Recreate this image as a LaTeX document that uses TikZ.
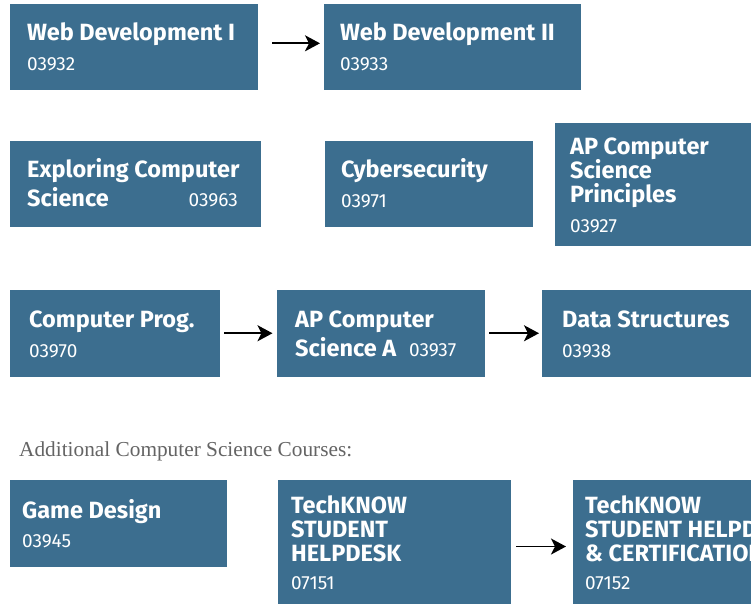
\documentclass[tikz,border=0pt]{standalone}
\usepackage{fontspec}
\setmainfont{Fira Sans}
\newfontfamily\serfont{Liberation Serif}
\usetikzlibrary{arrows.meta}
\definecolor{boxblue}{RGB}{60,110,143}
\definecolor{labelgray}{RGB}{100,100,100}
\begin{document}
\begin{tikzpicture}[x=1pt,y=-1pt,
 box/.style={fill=boxblue, draw=none, inner sep=0, outer sep=0, anchor=north west},
 ttl/.style={text=white, font=\fontsize{23.5}{24}\selectfont\bfseries, anchor=base west, inner sep=0},
 num/.style={text=white, font=\fontsize{19}{20}\selectfont, anchor=base west, inner sep=0},
 arr/.style={-{Stealth[length=15pt,width=16pt,inset=4pt]}, line width=1.8pt, black}]
\clip (0,0) rectangle (751,603);
\fill[white] (0,0) rectangle (751,603);
% boxes
\node[box, minimum width=248pt, minimum height=86pt] (b1) at (10,4) {};
\node[box, minimum width=257pt, minimum height=86pt] (b2) at (324,4) {};
\node[box, minimum width=251pt, minimum height=86pt] (b3) at (10,141) {};
\node[box, minimum width=208pt, minimum height=86pt] (b4) at (325,141) {};
\node[box, minimum width=220pt, minimum height=123pt] (b5) at (555,123) {};
\node[box, minimum width=210pt, minimum height=86.5pt] (b6) at (10,290) {};
\node[box, minimum width=208pt, minimum height=86.5pt] (b7) at (277,290) {};
\node[box, minimum width=230pt, minimum height=86.5pt] (b8) at (542,290) {};
\node[box, minimum width=217pt, minimum height=86.5pt] (b9) at (10,480) {};
\node[box, minimum width=233pt, minimum height=133pt] (b10) at (278,480) {};
\node[box, minimum width=220pt, minimum height=133pt] (b11) at (573,480) {};
% texts
\node[ttl] (t1) at (27,40) {Web Development I};
\node[num] (n1) at (27,70) {03932};
\node[ttl] (t2) at (340,40) {Web Development II};
\node[num] (n2) at (340,70) {03933};
\node[ttl] (t3a) at (27,177) {Exploring Computer};
\node[ttl] (t3b) at (27,206) {Science};
\node[num, anchor=base east] (n3) at (238,206) {03963};
\node[ttl] (t4) at (341,177) {Cybersecurity};
\node[num] (n4) at (341,207) {03971};
\node[ttl] (t5a) at (570,154.5) {AP Computer};
\node[ttl] (t5b) at (570,178.5) {Science};
\node[ttl] (t5c) at (570,202.5) {Principles};
\node[num] (n5) at (570,232.5) {03927};
\node[ttl] (t6) at (29,327.5) {Computer Prog.};
\node[num] (n6) at (29,357) {03970};
\node[ttl] (t7a) at (295,327.5) {AP Computer};
\node[ttl] (t7b) at (295,356) {Science A};
\node[num] (n7) at (409,356) {03937};
\node[ttl] (t8) at (562,327) {Data Structures};
\node[num] (n8) at (562,357) {03938};
\node[anchor=base west, inner sep=0, text=labelgray, font=\serfont\fontsize{21.3}{24}\selectfont] (lab) at (19,456) {Additional Computer Science Courses:};
\node[ttl] (t9) at (22,518) {Game Design};
\node[num] (n9) at (22,547) {03945};
\node[ttl] (t10a) at (291,513) {TechKNOW};
\node[ttl] (t10b) at (291,537) {STUDENT};
\node[ttl] (t10c) at (291,561) {HELPDESK};
\node[num] (n10) at (291,589) {07151};
\node[ttl] (t11a) at (585,513) {TechKNOW};
\node[ttl] (t11b) at (585,537) {STUDENT HELPDESK};
\node[ttl] (t11c) at (585,561) {\& CERTIFICATION};
\node[num] (n11) at (585,589) {07152};
% arrows
\draw[arr, shorten <=14pt, shorten >=4pt] ([yshift=3.7pt]b1.east) -- ([yshift=3.7pt]b2.west);
\draw[arr, shorten <=4pt, shorten >=4.5pt] (b6.east) -- (b7.west);
\draw[arr, shorten <=4pt, shorten >=3pt] (b7.east) -- (b8.west);
\draw[arr, shorten <=5pt, shorten >=7pt] (b10.east) -- (b11.west);
\end{tikzpicture}
\end{document}
